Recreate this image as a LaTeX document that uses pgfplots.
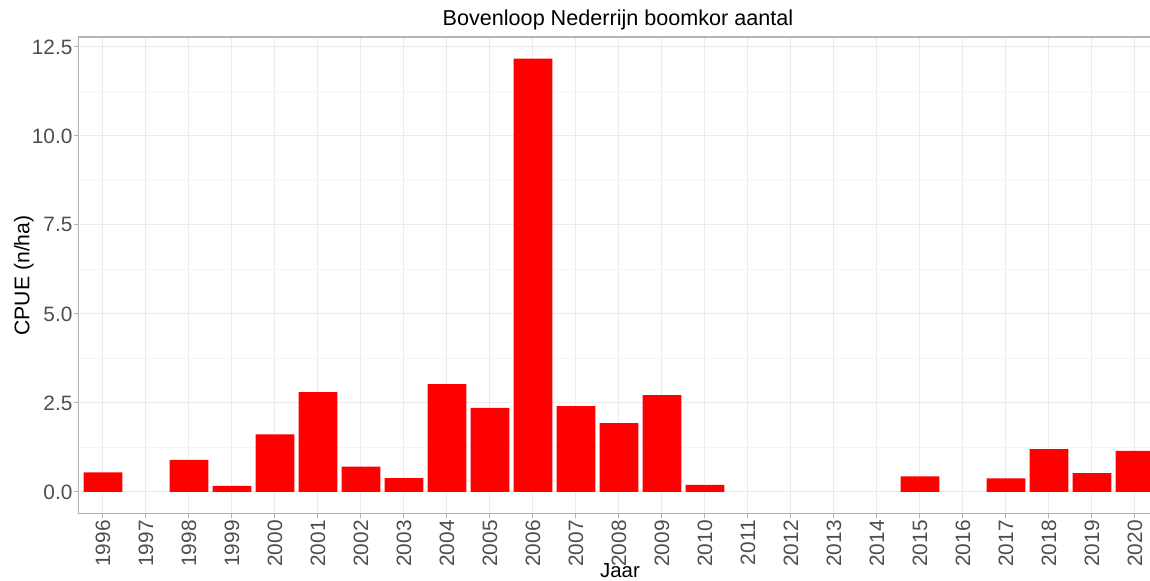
\documentclass[border=0pt]{standalone}
\usepackage{pgfplots}
\pgfplotsset{compat=1.18}
\usepackage{fontspec}
\setmainfont{Liberation Sans}
\definecolor{barred}{RGB}{255,0,0}
\definecolor{gridmaj}{RGB}{235,235,235}
\definecolor{gridmin}{RGB}{245,245,245}
\definecolor{frame}{RGB}{179,179,179}
\definecolor{ticktxt}{RGB}{77,77,77}

\begin{document}
\begin{tikzpicture}
\begin{axis}[
    scale only axis,
    width=536pt, height=238.5pt,
    xmin=-0.58, xmax=24.35,
    ymin=-0.62, ymax=12.78,
    axis line style={draw=none},
    xtick={0,...,24},
    xticklabels={1996,1997,1998,1999,2000,2001,2002,2003,2004,2005,2006,2007,2008,2009,2010,2011,2012,2013,2014,2015,2016,2017,2018,2019,2020},
    ytick={0,2.5,5,7.5,10,12.5},
    minor ytick={1.25,3.75,6.25,8.75,11.25},
    yticklabel style={/pgf/number format/fixed, /pgf/number format/fixed zerofill, /pgf/number format/precision=1},
    /pgf/number format/assume math mode=true,
    x tick label style={rotate=90, anchor=east, inner xsep=1pt, font=\fontsize{10.4}{11}\selectfont, text=ticktxt},
    y tick label style={inner xsep=0.6pt, font=\fontsize{10.4}{11}\selectfont, text=ticktxt},
    tick pos=left,
    tick align=outside,
    major tick length=2pt,
    minor tick length=0pt,
    tick style={frame, line width=0.5pt},
    xmajorgrids, ymajorgrids, yminorgrids,
    major grid style={gridmaj, line width=0.5pt},
    minor grid style={gridmin, line width=0.4pt},
    ybar, bar width=0.9, bar shift=0pt,
]
\addplot[fill=barred, draw=none] coordinates {
    (0,0.55) (2,0.90) (3,0.17) (4,1.62) (5,2.80) (6,0.71) (7,0.39)
    (8,3.03) (9,2.36) (10,12.17) (11,2.41) (12,1.93) (13,2.72) (14,0.20)
    (19,0.44) (21,0.38) (22,1.20) (23,0.53) (24,1.15)
};
\draw[frame, line width=0.6pt] (rel axis cs:1,1) -- (rel axis cs:0,1) -- (rel axis cs:0,0) -- (rel axis cs:1,0);
\coordinate (ll) at (rel axis cs:0,0);
\end{axis}
\node[font=\fontsize{10.8}{12}\selectfont] at ([shift={(270pt,247pt)}]ll) {Bovenloop Nederrijn boomkor aantal};
\node[font=\fontsize{10.6}{12}\selectfont, rotate=90] at ([shift={(-27pt,119.25pt)}]ll) {CPUE (n/ha)};
\node[font=\fontsize{10.2}{12}\selectfont, anchor=north, inner sep=0pt] at ([shift={(271pt,-24.3pt)}]ll) {Jaar};
\pgfresetboundingbox
\path ([shift={(-39pt,-33.5pt)}]ll) rectangle ([shift={(536pt,257pt)}]ll);
\end{tikzpicture}
\end{document}
